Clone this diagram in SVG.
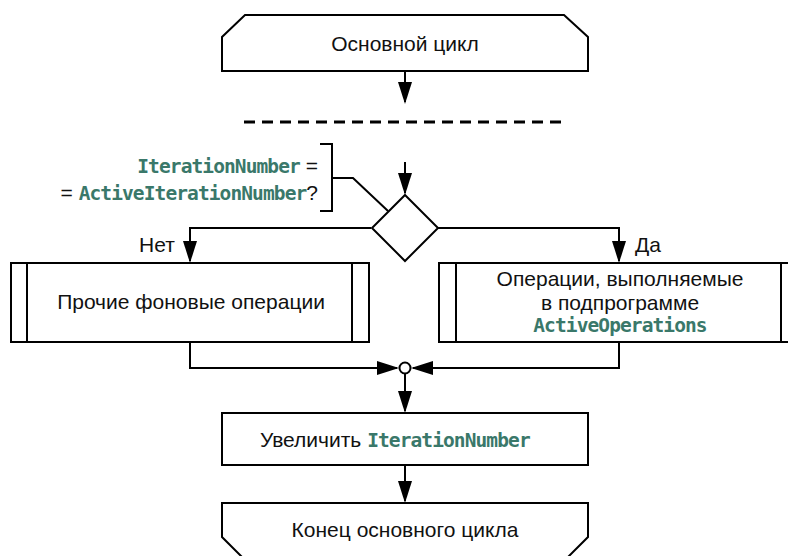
<svg xmlns="http://www.w3.org/2000/svg" width="788" height="556" viewBox="0 0 788 556">
<style>
.s{fill:#fff;stroke:#000;stroke-width:2}
.l{fill:none;stroke:#000;stroke-width:2}
.t{font-family:"Liberation Sans",Arial,sans-serif;font-size:21px;fill:#111}
.m{font-family:"DejaVu Sans Mono","Liberation Mono",monospace;font-weight:bold;font-size:19.5px;letter-spacing:-0.9px;fill:#3a786a}
</style>
<defs>
<marker id="a" markerUnits="userSpaceOnUse" markerWidth="24" markerHeight="16" refX="20" refY="7" orient="auto">
<path d="M0,0 L22,7 L0,14 z" fill="#000"/>
</marker>
</defs>
<rect width="788" height="556" fill="#fff"/>
<g id="connectors">
<path class="l" d="M405,71 V102" marker-end="url(#a)"/>
<path class="l" d="M405,162 V193" marker-end="url(#a)"/>
<path class="l" d="M371,228 H190 V261" marker-end="url(#a)"/>
<path class="l" d="M438,228 H619 V261" marker-end="url(#a)"/>
<path class="l" d="M190,342 V368 H397" marker-end="url(#a)"/>
<path class="l" d="M619,342 V368 H413" marker-end="url(#a)"/>
<path class="l" d="M405,374 V411" marker-end="url(#a)"/>
<path class="l" d="M405,465 V501" marker-end="url(#a)"/>
<path class="l" d="M320,144 H332 V211 H320 M332,178 H353 L388,211"/>
<line x1="244" y1="122" x2="562" y2="122" stroke="#000" stroke-width="3" stroke-dasharray="11 7"/>
</g>
<g id="start">
<path class="s" d="M222,71 V37 L245,15 H564 L588,37 V71 Z"/>
<text class="t" x="405" y="51" text-anchor="middle">Основной цикл</text>
</g>
<g id="condition">
<path class="s" d="M405,195 L438,228 L405,261 L372,228 Z"/>
<text class="t" x="318" y="173" text-anchor="end"><tspan class="m">IterationNumber</tspan> =</text>
<text class="t" x="318" y="200" text-anchor="end">= <tspan class="m">ActiveIterationNumber</tspan>?</text>
<text class="t" x="139" y="252">Нет</text>
<text class="t" x="635" y="252">Да</text>
</g>
<g id="other">
<rect class="s" x="11" y="263" width="358" height="79"/>
<path class="l" d="M27,263 V342 M352,263 V342"/>
<text class="t" x="191" y="309" text-anchor="middle">Прочие фоновые операции</text>
</g>
<g id="active">
<rect class="s" x="439" y="263" width="358" height="79"/>
<path class="l" d="M456,263 V342 M781,263 V342"/>
<text class="t" x="620" y="286" text-anchor="middle">Операции, выполняемые</text>
<text class="t" x="620" y="310" text-anchor="middle">в подпрограмме</text>
<text class="m" x="620" y="332" text-anchor="middle">ActiveOperations</text>
</g>
<g id="junction">
<circle class="s" cx="405" cy="368" r="5.5"/>
</g>
<g id="increment">
<rect class="s" x="222" y="413" width="366" height="52"/>
<text class="t" x="260" y="447">Увеличить <tspan class="m">IterationNumber</tspan></text>
</g>
<g id="end">
<path class="s" d="M222,503 H588 V537 L566,559 H244 L222,537 Z"/>
<text class="t" x="405" y="537" text-anchor="middle">Конец основного цикла</text>
</g>
</svg>
